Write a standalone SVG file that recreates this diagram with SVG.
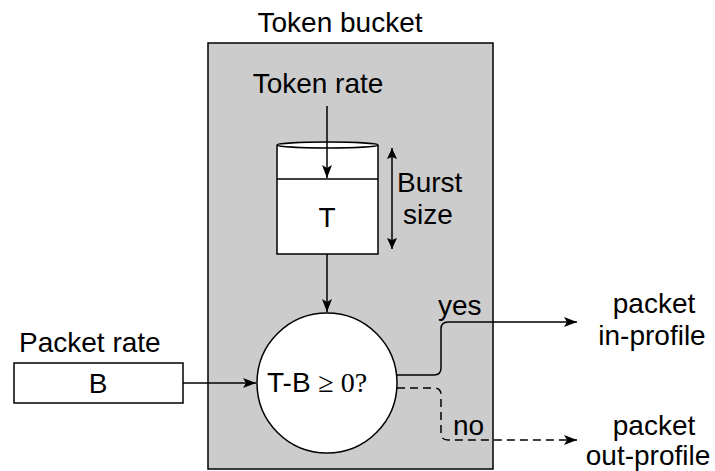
<svg xmlns="http://www.w3.org/2000/svg" width="715" height="471" viewBox="0 0 715 471">
<defs>
<style>
text{font-family:"Liberation Sans",Arial,sans-serif;font-size:28px;fill:#000}
.c{text-anchor:middle}
.ln{fill:none;stroke:#000;stroke-width:1.5}
.sh{fill:#fff;stroke:#000;stroke-width:1.5}
</style>
<marker id="ah" markerWidth="14" markerHeight="12" refX="13" refY="6" orient="auto" markerUnits="userSpaceOnUse">
<path d="M0,1 L13,6 L0,11 L3,6 z" fill="#000"/>
</marker>
<marker id="ab" markerWidth="12" markerHeight="12" refX="11" refY="6" orient="auto-start-reverse" markerUnits="userSpaceOnUse">
<path d="M0,1 L11,6 L0,11 L2,6 z" fill="#000"/>
</marker>
</defs>
<rect width="715" height="471" fill="#fff"/>
<g id="token-bucket">
<rect x="208" y="43" width="285" height="426" fill="#cccccc" stroke="#000" stroke-width="1.5"/>
<text class="c" x="340" y="32">Token bucket</text>
<text class="c" x="318" y="93">Token rate</text>
</g>
<g id="bucket">
<path class="sh" d="M277,145 L277,254 L378,254 L378,145"/>
<ellipse class="sh" cx="327.5" cy="145" rx="50.5" ry="3"/>
<line class="ln" x1="277" y1="179" x2="378" y2="179"/>
<text class="c" x="327" y="227">T</text>
</g>
<g id="burst">
<text x="397" y="192">Burst</text>
<text class="c" x="428" y="224">size</text>
</g>
<g id="decision">
<circle class="sh" cx="327" cy="383" r="70"/>
<text x="267" y="392">T-B <tspan style="font-family:'Liberation Serif','Times New Roman',serif">≥ 0?</tspan></text>
</g>
<g id="packet-rate">
<rect class="sh" x="14" y="363" width="169" height="40"/>
<text class="c" x="98" y="393">B</text>
<text x="19" y="352">Packet rate</text>
</g>
<g id="out-in">
<text class="c" x="654" y="313">packet</text>
<text class="c" x="652" y="345">in-profile</text>
</g>
<g id="out-out">
<text class="c" x="654" y="435">packet</text>
<text class="c" x="648" y="465">out-profile</text>
</g>
<g id="connectors">
<line class="ln" x1="327" y1="106" x2="327" y2="178" marker-end="url(#ah)"/>
<line class="ln" x1="327" y1="254" x2="327" y2="312" marker-end="url(#ah)"/>
<line class="ln" x1="392" y1="148" x2="392" y2="249" marker-start="url(#ab)" marker-end="url(#ab)"/>
<line class="ln" x1="183" y1="383" x2="256" y2="383" marker-end="url(#ah)"/>
<path class="ln" d="M397,375 L434,375 Q441,375 441,368 L441,329 Q441,322 448,322 L577,322" marker-end="url(#ah)"/>
<path class="ln" d="M397,388 L434,388 Q441,388 441,395 L441,433 Q441,440 448,440 L577,440" stroke-dasharray="8,5" marker-end="url(#ah)"/>
<text x="438" y="315">yes</text>
<text x="453" y="435">no</text>
</g>
</svg>
